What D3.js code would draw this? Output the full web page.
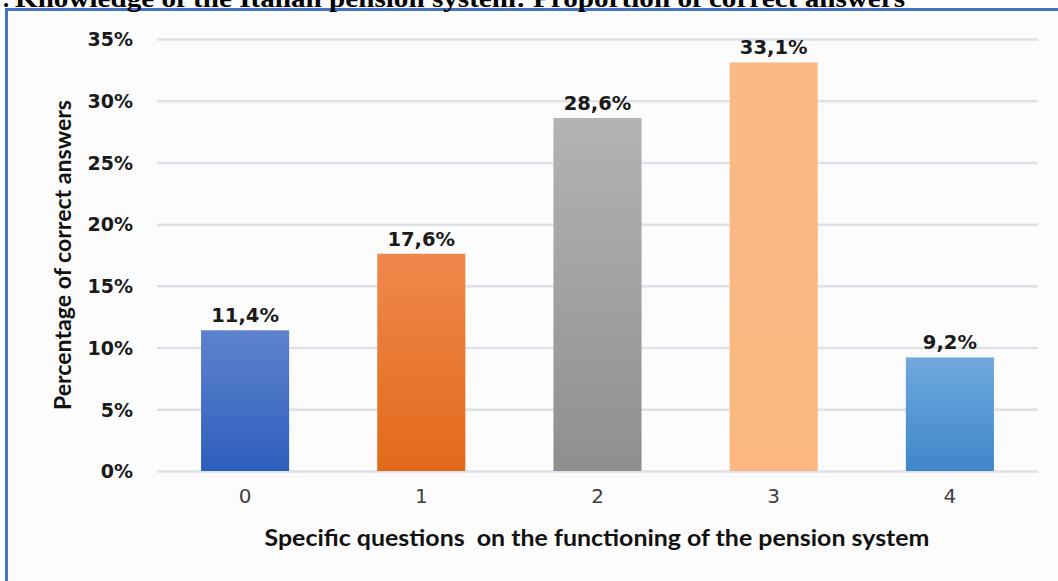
<!DOCTYPE html>
<html><head><meta charset="utf-8">
<script src="https://cdn.jsdelivr.net/npm/d3@7"></script>
<style>html,body{margin:0;padding:0;background:#fff;overflow:hidden}</style>
</head><body>
<svg id="c" width="1058" height="581"></svg>
<script>
const categories = ["0","1","2","3","4"];
const values = [11.4, 17.6, 28.6, 33.1, 9.2];
const valueLabels = ["11,4%","17,6%","28,6%","33,1%","9,2%"];
const yTicks = [0,5,10,15,20,25,30,35];
const barTop = ["#5f82cd","#f0884c","#b3b3b3","#fbb985","#6fa8dd"];
const barBottom = ["#2d5fbd","#e2691a","#8f8f8f","#fbb77f","#3f87ca"];
const titleText = "Knowledge of the Italian pension system: Proportion of correct answers";
const yTitle = "Percentage of correct answers";
const xTitle = "Specific questions  on the functioning of the pension system";

const svg = d3.select("#c");
svg.append("rect").attr("x",6.5).attr("y",9.5).attr("width",1100).attr("height",700)
  .attr("fill","#fcfcfc").attr("stroke","#4472c4").attr("stroke-width",3);
// title (partly cut off at the top, as in the reference)
svg.append("text").attr("x",2).attr("y",7).attr("font-family","Liberation Serif")
  .attr("font-weight","bold").attr("font-size",25).attr("fill","#000").text(":");
svg.append("text").attr("x",15).attr("y",7).attr("font-family","Liberation Serif")
  .attr("font-weight","bold").attr("font-size",25).attr("fill","#000")
  .attr("textLength",890).attr("lengthAdjust","spacingAndGlyphs").text(titleText);

const x = d3.scaleBand().domain(categories).range([157,1038]).paddingInner(0.5).paddingOuter(0.25);
const y = d3.scaleLinear().domain([0,35]).range([471,39]);

const defs = svg.append("defs");
categories.forEach((c,i)=>{
  const g = defs.append("linearGradient").attr("id","g"+i).attr("x1",0).attr("y1",0).attr("x2",0).attr("y2",1);
  g.append("stop").attr("offset","0%").attr("stop-color",barTop[i]);
  g.append("stop").attr("offset","100%").attr("stop-color",barBottom[i]);
});

const yAxis = d3.axisLeft(y).tickValues(yTicks).tickSize(-(1038-157)).tickFormat(d=>d+"%").tickPadding(24);
const ga = svg.append("g").attr("transform","translate(157,0)").call(yAxis);
ga.select(".domain").remove();
ga.selectAll(".tick line").attr("stroke","#dde1e8").attr("stroke-width",2.5);
ga.selectAll(".tick text").attr("font-family","DejaVu Sans").attr("font-weight","bold")
  .attr("font-size",19).attr("fill","#1a1a1a").attr("dy","0.36em");

svg.append("g").selectAll("rect").data(values).join("rect")
  .attr("x",(d,i)=>x(categories[i])).attr("width",x.bandwidth())
  .attr("y",d=>y(d)).attr("height",d=>y(0)-y(d)).attr("fill",(d,i)=>"url(#g"+i+")");

svg.append("g").selectAll("text").data(values).join("text")
  .attr("x",(d,i)=>x(categories[i])+x.bandwidth()/2).attr("y",d=>y(d)-8)
  .attr("text-anchor","middle").attr("font-family","DejaVu Sans").attr("font-weight","bold")
  .attr("font-size",19.5).attr("fill","#1a1a1a").text((d,i)=>valueLabels[i]);

const xAxis = d3.axisBottom(x).tickSize(0).tickPadding(18);
const gx = svg.append("g").attr("transform","translate(0,471)").call(xAxis);
gx.select(".domain").remove();
gx.selectAll(".tick text").attr("font-family","DejaVu Sans").attr("font-size",20).attr("fill","#404040");

svg.append("text").attr("transform","translate(71,255) rotate(-90)").attr("text-anchor","middle")
  .attr("font-family","Lato").attr("font-weight","bold").attr("font-size",22).attr("fill","#111")
  .attr("textLength",310).attr("lengthAdjust","spacingAndGlyphs").text(yTitle);
svg.append("text").attr("x",597).attr("y",546).attr("text-anchor","middle")
  .style("white-space","pre")
  .attr("font-family","Lato").attr("font-weight","bold").attr("font-size",22).attr("fill","#111")
  .attr("textLength",665).attr("lengthAdjust","spacingAndGlyphs").text(xTitle);
</script>
</body></html>
